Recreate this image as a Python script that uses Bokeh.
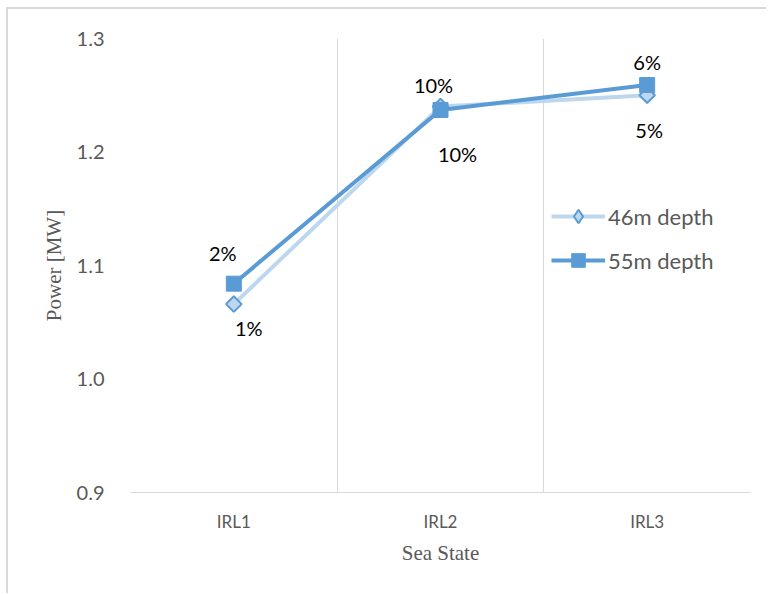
import math
from bokeh.plotting import figure
from bokeh.models import (ColumnDataSource, FixedTicker, Range1d, Legend, LegendItem,
                          NumeralTickFormatter, LabelSet)
from bokeh.core.properties import value
from bokeh.embed import file_html
from bokeh.resources import INLINE

categories = ["IRL1", "IRL2", "IRL3"]
power_46m = [1.066, 1.240, 1.250]
power_55m = [1.084, 1.237, 1.259]
labels_46m = ["1%", "10%", "5%"]
labels_55m = ["2%", "10%", "6%"]
y_ticks = [0.9, 1.0, 1.1, 1.2, 1.3]

xs = list(range(1, len(categories) + 1))

GRAY = "#595959"
LIGHT = "#BDD7EE"
BLUE = "#5B9BD5"
GRID = "#D9D9D9"

p = figure(width=760, height=586, output_backend="svg", toolbar_location=None,
           x_range=Range1d(0.5, len(categories) + 0.5), y_range=Range1d(0.9, 1.3),
           min_border_left=122, min_border_right=18, min_border_top=29, min_border_bottom=103)
p.margin = (9, 0, 0, 8)
p.styles = {"box-shadow": "-2px -2px 0px 0px #D9D9D9"}
p.outline_line_color = None
p.background_fill_color = "white"
p.border_fill_color = "white"

# axes
p.xaxis.ticker = FixedTicker(ticks=xs)
p.xaxis.major_label_overrides = {x: c for x, c in zip(xs, categories)}
p.xaxis.axis_line_color = GRID
p.xaxis.major_tick_line_color = None
p.xaxis.minor_tick_line_color = None
p.xaxis.major_label_text_font = "Lato"
p.xaxis.major_label_text_font_size = "17px"
p.xaxis.major_label_text_color = GRAY
p.xaxis.major_label_standoff = 12
p.xaxis.axis_label = "Sea State"
p.xaxis.axis_label_text_font = "Liberation Serif"
p.xaxis.axis_label_text_font_style = "normal"
p.xaxis.axis_label_text_font_size = "21px"
p.xaxis.axis_label_text_color = GRAY
p.xaxis.axis_label_standoff = 6

p.yaxis.ticker = FixedTicker(ticks=y_ticks)
p.yaxis.formatter = NumeralTickFormatter(format="0.0")
p.yaxis.axis_line_color = None
p.yaxis.major_tick_line_color = None
p.yaxis.minor_tick_line_color = None
p.yaxis.major_label_text_font = "Lato"
p.yaxis.major_label_text_font_size = "20px"
p.yaxis.major_label_text_color = GRAY
p.yaxis.major_label_standoff = 20
p.yaxis.axis_label = "Power [MW]"
p.yaxis.axis_label_text_font = "Liberation Serif"
p.yaxis.axis_label_text_font_style = "normal"
p.yaxis.axis_label_text_font_size = "21px"
p.yaxis.axis_label_text_color = GRAY
p.yaxis.axis_label_standoff = 8

p.ygrid.grid_line_color = None
p.xgrid.ticker = FixedTicker(ticks=[x - 0.5 for x in xs] + [xs[-1] + 0.5])
p.xgrid.grid_line_color = GRID
p.xgrid.grid_line_width = 1

src46 = ColumnDataSource(dict(x=xs, y=power_46m, lab=labels_46m,
                              dx=[15, 17, 2], dy=[-24, -47, -35]))
src55 = ColumnDataSource(dict(x=xs, y=power_55m, lab=labels_55m,
                              dx=[-11, -7, 0], dy=[31, 25, 23]))

l46 = p.line("x", "y", source=src46, line_color=LIGHT, line_width=4)
m46 = p.scatter("x", "y", source=src46, marker="square", size=11, angle=math.pi / 4,
                fill_color=LIGHT, line_color=BLUE, line_width=2)
l55 = p.line("x", "y", source=src55, line_color=BLUE, line_width=4)
m55 = p.scatter("x", "y", source=src55, marker="square", size=15,
                fill_color=BLUE, line_color=BLUE)

# legend-only diamond swatch (a single undefined point, never drawn on the plot)
leg46 = p.scatter(x=[float("nan")], y=[float("nan")], marker="diamond", size=14,
                  fill_color=LIGHT, line_color=BLUE, line_width=2)

for src in (src46, src55):
    p.add_layout(LabelSet(x="x", y="y", text="lab", source=src, x_offset="dx", y_offset="dy",
                          text_align="center", text_baseline="middle",
                          text_font=value("Lato"), text_font_size="20px", text_color="black"))

legend = Legend(items=[LegendItem(label="46m depth", renderers=[l46, leg46]),
                       LegendItem(label="55m depth", renderers=[l55, m55])],
                location=(421, 215), orientation="vertical",
                glyph_width=54, glyph_height=34, spacing=10, padding=0, margin=0,
                label_standoff=3, label_text_font="Lato", label_text_font_size="22px",
                label_text_color=GRAY, border_line_alpha=0, background_fill_alpha=0)
p.add_layout(legend)

open("out.html", "w").write(file_html(p, INLINE))
